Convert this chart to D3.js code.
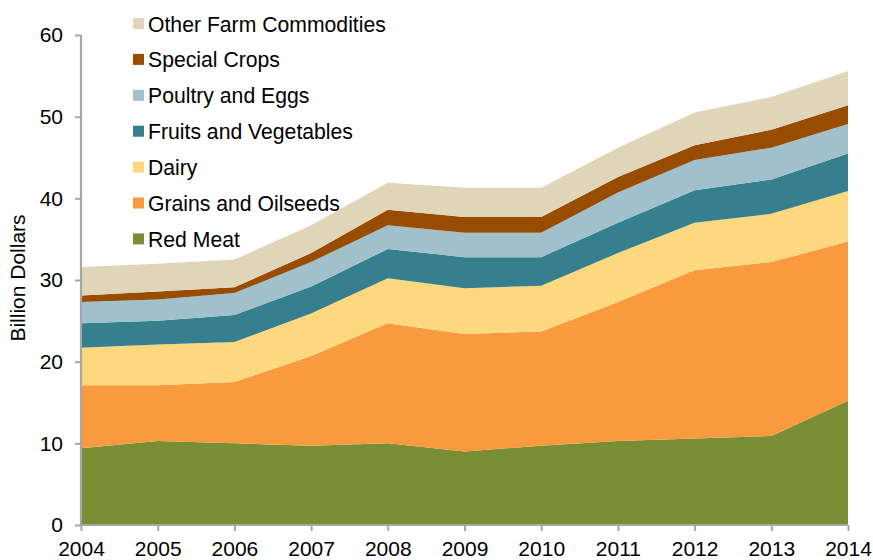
<!DOCTYPE html>
<html><head><meta charset="utf-8">
<script src="https://cdn.jsdelivr.net/npm/d3@7"></script>
<style>body{margin:0;background:#fff}svg{display:block;font-family:Arial,"Liberation Sans",sans-serif}</style>
</head><body><svg id="c" width="873" height="560"></svg>
<script>
const years = [2004,2005,2006,2007,2008,2009,2010,2011,2012,2013,2014];
const seriesNames = ["Red Meat","Grains and Oilseeds","Dairy","Fruits and Vegetables","Poultry and Eggs","Special Crops","Other Farm Commodities"];
const redMeat   = [9.4,10.3,10.0,9.7,10.0,9.0,9.7,10.3,10.6,10.9,15.2];
const grains    = [7.7,6.8,7.5,11.0,14.7,14.4,14.0,17.0,20.6,21.3,19.5];
const dairy     = [4.6,5.0,4.9,5.2,5.5,5.6,5.6,6.0,5.8,5.9,6.2];
const fruits    = [3.0,2.9,3.3,3.3,3.6,3.8,3.5,3.7,4.0,4.2,4.6];
const poultry   = [2.6,2.6,2.7,3.0,2.9,3.0,3.0,3.7,3.7,3.9,3.6];
const special   = [0.8,1.0,0.7,1.1,1.9,1.9,1.9,1.9,1.8,2.2,2.3];
const other     = [3.5,3.4,3.4,3.4,3.3,3.6,3.6,3.6,4.0,4.0,4.2];
const colors = ["#788d34","#f99a3e","#fdd87e","#357f8e","#a0c1cb","#984c00","#e0d5b9"];
const yTicks = [0,10,20,30,40,50,60];

const seriesValues = [redMeat,grains,dairy,fruits,poultry,special,other];
const table = years.map((y,i)=>{const o={year:y};seriesNames.forEach((n,k)=>o[n]=seriesValues[k][i]);return o;});

const svg = d3.select("#c");
const x = d3.scaleLinear().domain([2004,2014]).range([81,848]);
const y = d3.scaleLinear().domain([0,60]).range([525,35]);

const stack = d3.stack().keys(seriesNames);
const layers = stack(table);
const area = d3.area().x(d=>x(d.data.year)).y0(d=>y(d[0])).y1(d=>y(d[1]));
svg.append("g").selectAll("path").data(layers).join("path")
  .attr("d",area).attr("fill",(d,i)=>colors[i]);

const FONT = "Arial,'Liberation Sans',sans-serif";
// y axis
const ya = svg.append("g").attr("transform","translate(81,0)")
  .call(d3.axisLeft(y).tickValues(yTicks).tickSize(6).tickPadding(12).tickFormat(d3.format("d")));
ya.select(".domain").attr("stroke","#a6a6a6").attr("stroke-width",2.2).attr("d","M0,525V35");
ya.selectAll(".tick line").attr("stroke","#a6a6a6").attr("stroke-width",2);
ya.selectAll(".tick text").attr("font-size",21).attr("fill","#000").attr("font-family",FONT);

// x axis
const xa = svg.append("g").attr("transform","translate(0,525)")
  .call(d3.axisBottom(x).tickValues(years).tickSize(6).tickPadding(10).tickFormat(d3.format("d")));
xa.select(".domain").attr("stroke","#a6a6a6").attr("stroke-width",2.2).attr("d","M81,0H848");
xa.selectAll(".tick line").attr("stroke","#a6a6a6").attr("stroke-width",2);
xa.selectAll(".tick text").attr("font-size",21).attr("fill","#000").attr("font-family",FONT);

// y title
svg.append("text").attr("transform","translate(25,278) rotate(-90)")
  .attr("text-anchor","middle").attr("font-size",21).attr("fill","#000").text("Billion Dollars");

// legend (stack order reversed, top to bottom)
const legendOrder = seriesNames.map((n,i)=>({n,c:colors[i]})).reverse();
const lg = svg.append("g");
legendOrder.forEach((d,i)=>{
  const cy = 24 + i*35.9;
  lg.append("rect").attr("x",133).attr("y",cy-6).attr("width",11).attr("height",11).attr("fill",d.c);
  lg.append("text").attr("x",148).attr("y",cy+7.5).attr("font-size",21.2).attr("fill","#000").text(d.n);
});
</script></body></html>
